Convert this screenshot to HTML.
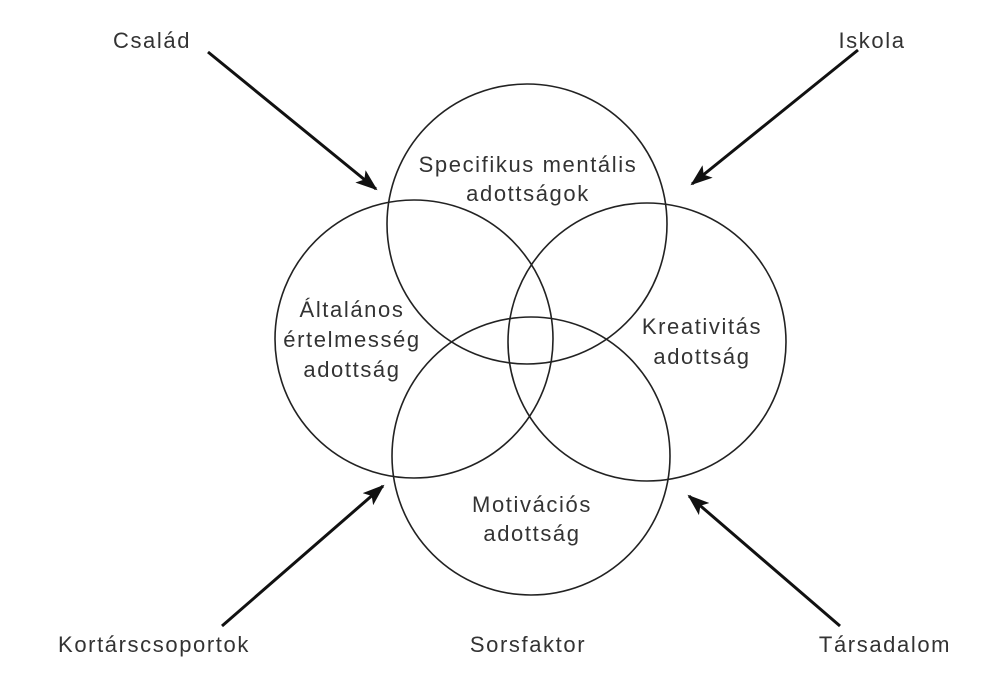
<!DOCTYPE html>
<html><head><meta charset="utf-8"><style>
html,body{margin:0;padding:0;background:#fff;}
svg{display:block}
text{font-family:"Liberation Sans",sans-serif;font-size:22px;letter-spacing:1.6px;fill:#333;}
</style></head><body>
<svg width="1004" height="674" viewBox="0 0 1004 674" xmlns="http://www.w3.org/2000/svg">
<defs>
<marker id="b" markerWidth="22" markerHeight="16" refX="20" refY="8" orient="auto" markerUnits="userSpaceOnUse" viewBox="0 0 22 16"><path d="M0,0 L22,8 L0,16 L5,8 z" fill="#111"/></marker></defs>
<g fill="none" stroke="#222" stroke-width="1.6">
<circle cx="527" cy="224" r="140"/>
<circle cx="414" cy="339" r="139"/>
<circle cx="647" cy="342" r="139"/>
<circle cx="531" cy="456" r="139"/>
</g>
<g stroke="#111" stroke-width="3" marker-end="url(#b)">
<line x1="208" y1="52" x2="376" y2="189"/>
<line x1="858" y1="50" x2="692" y2="184"/>
<line x1="222" y1="626" x2="383" y2="486"/>
<line x1="840" y1="626" x2="689" y2="496"/>
</g>
<g text-anchor="middle">
<text x="528" y="172">Specifikus mentális</text>
<text x="528" y="201">adottságok</text>
<text x="352" y="317">Általános</text>
<text x="352" y="347">értelmesség</text>
<text x="352" y="377">adottság</text>
<text x="702" y="334">Kreativitás</text>
<text x="702" y="364">adottság</text>
<text x="532" y="512">Motivációs</text>
<text x="532" y="541">adottság</text>
<text x="152" y="48">Család</text>
<text x="872" y="48">Iskola</text>
<text x="154" y="652">Kortárscsoportok</text>
<text x="528" y="652">Sorsfaktor</text>
<text x="885" y="652">Társadalom</text>
</g>
</svg>
</body></html>
